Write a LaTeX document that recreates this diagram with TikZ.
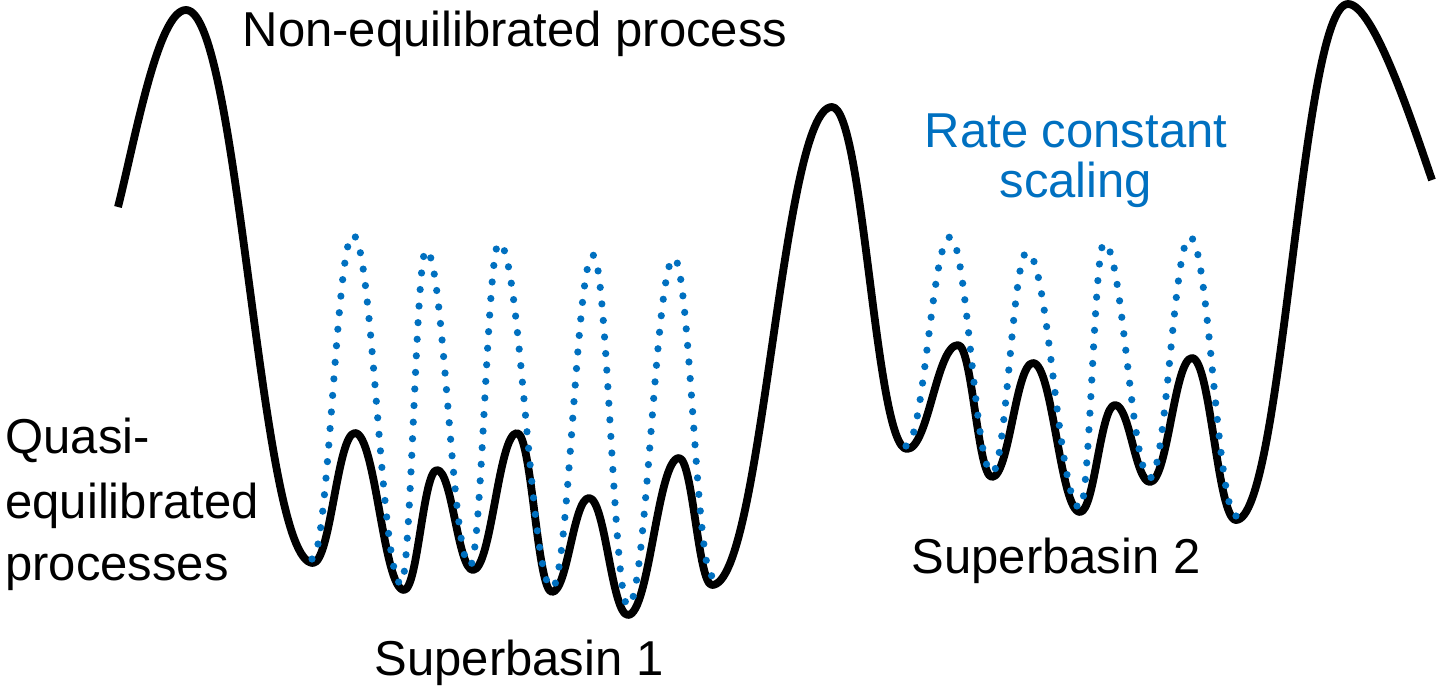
\documentclass[tikz,border=0pt]{standalone}
\usepackage{fontspec}
\setmainfont{Liberation Sans}
\definecolor{myblue}{RGB}{0,112,192}
\begin{document}
\begin{tikzpicture}[x=0.5pt,y=-0.5pt,
  blackline/.style={line width=3.9pt, black, line join=round, line cap=butt},
  blueline/.style={line width=3.6pt, myblue, line cap=round, dash pattern=on 0pt off 8.3pt},
  lbl/.style={inner sep=0pt, font=\fontsize{24.5}{29}\selectfont},
  bluelbl/.style={lbl, text=myblue}]
\useasboundingbox (0,0) rectangle (1440,690);
% black energy landscape
\draw[blackline] (118,207) .. controls (135,140) and (158,10) .. (186,10)
  \foreach \x/\y [remember=\x as \lx (initially 186), remember=\y as \ly (initially 10)] in
  {313/563, 355/433, 404/590, 437/470, 473/570, 517/433, 552/592, 589/498, 628/615, 679/458, 712/585,
   832/107, 907/449, 958/345, 992/477, 1033/363, 1080/512, 1115/405, 1150/482, 1192/358, 1236/520, 1348/4}
  { .. controls ({\lx+0.42*(\x-\lx)},\ly) and ({\x-0.42*(\x-\lx)},\y) .. (\x,\y) }
  .. controls (1374,4) and (1414,128) .. (1432,180);
% blue dotted, superbasin 1
\draw[blueline] (312,559)
  \foreach \x/\y [remember=\x as \lx (initially 312), remember=\y as \ly (initially 559)] in
  {353/235, 401/584, 426/250, 470/566, 499/243, 552/588, 593/255, 628/606, 674/258, 712/576}
  { .. controls ({\lx+0.4*(\x-\lx)},\ly) and ({\x-0.4*(\x-\lx)},\y) .. (\x,\y) };
% blue dotted, superbasin 2
\draw[blueline] (906,446)
  \foreach \x/\y [remember=\x as \lx (initially 906), remember=\y as \ly (initially 446)] in
  {950/237, 992/473, 1027/252, 1080/508, 1104/243, 1150/478, 1190/237, 1236/516}
  { .. controls ({\lx+0.4*(\x-\lx)},\ly) and ({\x-0.4*(\x-\lx)},\y) .. (\x,\y) };
% labels
\node[lbl, anchor=base] (noneq) at (515,47) {Non-equilibrated process};
\node[bluelbl, anchor=base] (rate1) at (1076,148) {Rate constant};
\node[bluelbl, anchor=base] (rate2) at (1076,198) {scaling};
\node[lbl, anchor=base west] (q1) at (5,453) {Quasi-};
\node[lbl, anchor=base west] (q2) at (5,518) {equilibrated};
\node[lbl, anchor=base west] (q3) at (5,580) {processes};
\node[lbl, anchor=base] (sb1) at (519,675) {Superbasin 1};
\node[lbl, anchor=base] (sb2) at (1056,573) {Superbasin 2};
\end{tikzpicture}
\end{document}
